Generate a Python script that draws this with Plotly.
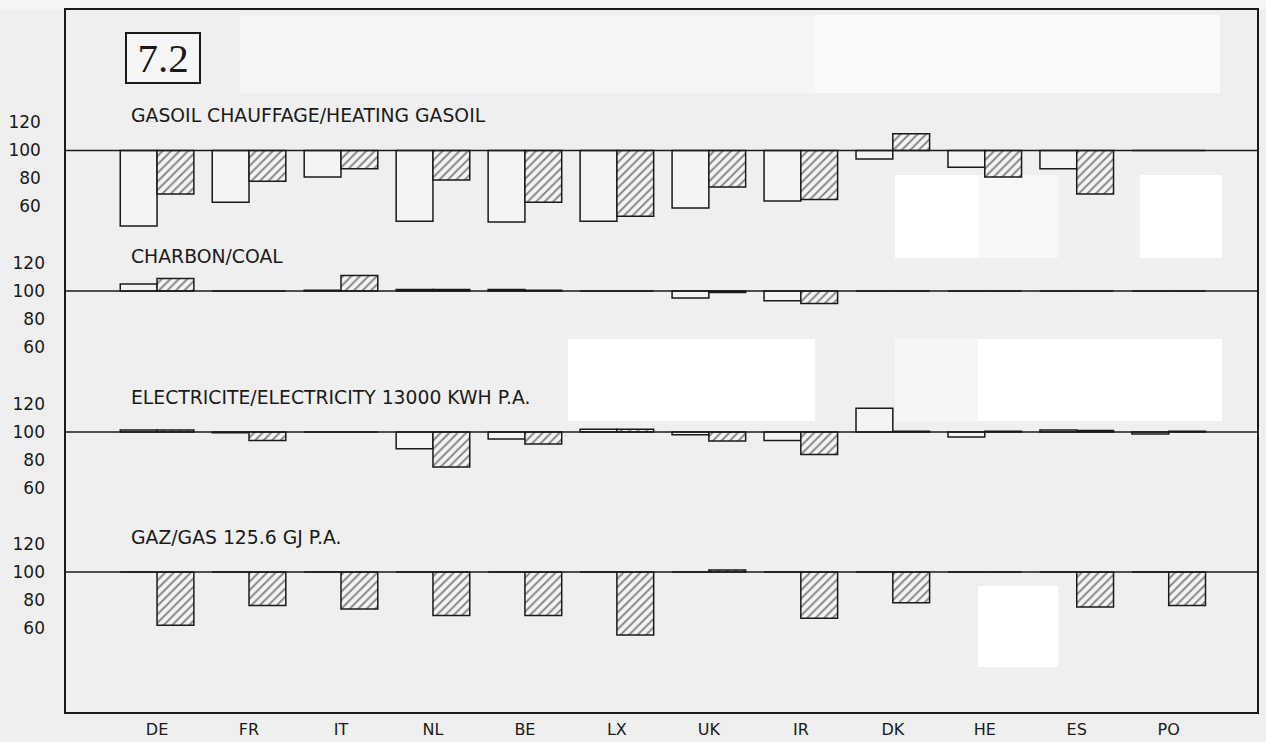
import plotly.graph_objects as go

countries = ["DE", "FR", "IT", "NL", "BE", "LX", "UK", "IR", "DK", "HE", "ES", "PO"]

# index values (100 = reference), open bar / hatched bar
gasoil_open = [46, 63, 81, 49.5, 49, 49.5, 59, 64, 94, 88, 87, 100]
gasoil_hatch = [69, 78, 87, 79, 63, 53, 74, 65, 112, 81, 69, 100]
coal_open = [105, 100, 100.5, 101, 101, 100, 95, 93, 100, 100, 100, 100]
coal_hatch = [109, 100, 111, 101, 100.5, 100, 99, 91, 100, 100, 100, 100]
elec_open = [101.5, 99.5, 100, 88, 95, 102, 98, 94, 117, 96.5, 101.5, 98.5]
elec_hatch = [101.5, 94, 100, 75, 91.5, 102, 93.5, 84, 100.5, 100.5, 101, 100.5]
gas_open = [100, 100, 100, 100, 100, 100, 100, 100, 100, 100, 100, 100]
gas_hatch = [62, 76, 73.5, 69, 69, 55, 101.5, 67, 78, 100, 75, 76]

panel_titles = ["GASOIL CHAUFFAGE/HEATING GASOIL", "CHARBON/COAL",
                "ELECTRICITE/ELECTRICITY 13000 KWH P.A.", "GAZ/GAS 125.6 GJ P.A."]
tick_vals = [60, 80, 100, 120]

panels = [(gasoil_open, gasoil_hatch), (coal_open, coal_hatch),
          (elec_open, elec_hatch), (gas_open, gas_hatch)]

W, H = 1266, 742
plot_left, plot_right = 66, 1257
plot_top, plot_bot = 10, 712
ML, MT, MR, MB = plot_left, plot_top, W - plot_right, H - plot_bot
pw = plot_right - plot_left
ph = plot_bot - plot_top
px_per_unit = 1.4
baselines = [150.5, 291, 432, 572]

BG = "#efefef"
INK = "#1a1a1a"
FONT = "DejaVu Sans"

fig = go.Figure()
axis_names = ["y", "y2", "y3", "y4"]
for i, (op, ht) in enumerate(panels):
    ya = axis_names[i]
    fig.add_trace(go.Bar(x=countries, y=[v - 100 for v in op], base=100,
                         width=0.4, offset=-0.4, yaxis=ya,
                         marker=dict(color="#f4f4f4", line=dict(color=INK, width=1.5)),
                         showlegend=False))
    fig.add_trace(go.Bar(x=countries, y=[v - 100 for v in ht], base=100,
                         width=0.4, offset=0.0, yaxis=ya,
                         marker=dict(color="#f4f4f4", line=dict(color=INK, width=1.5),
                                     pattern=dict(shape="/", fgcolor=INK, bgcolor="#f4f4f4",
                                                  size=6, solidity=0.33)),
                         showlegend=False))


def yrange(b):
    return [100 - (plot_bot - b) / px_per_unit, 100 + (b - plot_top) / px_per_unit]


common_y = dict(tickvals=tick_vals, ticks="", showgrid=False, zeroline=False,
                tickfont=dict(family=FONT, size=17, color=INK), ticklabelstandoff=20,
                fixedrange=True, automargin=False)

layout_axes = {}
for i, b in enumerate(baselines):
    key = "yaxis" if i == 0 else f"yaxis{i+1}"
    d = dict(common_y, range=yrange(b))
    if i == 0:
        d.update(showline=True, mirror=True, linecolor=INK, linewidth=1.5)
    else:
        d.update(overlaying="y", side="left", showline=False)
    layout_axes[key] = d


def py(y):
    return (plot_bot - y) / ph


def pxx(x):
    return (x - plot_left) / pw


shapes = []
for i in range(4):
    shapes.append(dict(type="line", xref="paper", x0=0, x1=1, yref=axis_names[i],
                       y0=100, y1=100, line=dict(color=INK, width=1.5), layer="above"))

# light scan patches (pixel boxes)
patches = [
    (240, 815, 15, 93, "#f5f5f5"), (815, 1220, 15, 93, "#fafafa"),
    (895, 978, 175, 258, "#ffffff"), (978, 1058, 175, 258, "#f7f7f7"), (1140, 1222, 175, 258, "#ffffff"),
    (568, 815, 339, 421, "#ffffff"), (895, 978, 339, 421, "#f6f6f6"), (978, 1222, 339, 421, "#ffffff"),
    (978, 1058, 586, 667, "#ffffff"),
]
for x0, x1, y0, y1, c in patches:
    shapes.append(dict(type="rect", xref="paper", yref="paper", x0=pxx(x0), x1=pxx(x1),
                       y0=py(y1), y1=py(y0), fillcolor=c, line=dict(width=0), layer="below"))
shapes.append(dict(type="rect", xref="paper", yref="paper", x0=-1, x1=2, y0=1, y1=1 + plot_top / ph,
                   fillcolor="#f5f5f5", line=dict(width=0), layer="below"))

annotations = []
for i, t in enumerate(panel_titles):
    annotations.append(dict(text=t, xref="paper", x=pxx(129), xanchor="left",
                            yref=axis_names[i], y=125, yanchor="middle", showarrow=False,
                            font=dict(family=FONT, size=18.8, color=INK)))

annotations.append(dict(text="7.2", xref="paper", yref="paper", x=pxx(163), y=py(58),
                        xanchor="center", yanchor="middle", showarrow=False,
                        font=dict(family="Liberation Serif", size=41, color=INK),
                        bordercolor=INK, borderwidth=2, bgcolor="#f6f6f6",
                        width=72, height=48, borderpad=0))

fig.update_layout(
    width=W, height=H, autosize=False,
    margin=dict(l=ML, r=MR, t=MT, b=MB, pad=0, autoexpand=False),
    paper_bgcolor=BG, plot_bgcolor=BG,
    barmode="overlay",
    xaxis=dict(range=[-0.99, 11.96], ticks="", showgrid=False, zeroline=False,
               tickfont=dict(family=FONT, size=16, color=INK), ticklabelstandoff=2,
               showline=True, mirror=True, linecolor=INK, linewidth=1.5, fixedrange=True,
               automargin=False),
    shapes=shapes, annotations=annotations,
    **layout_axes,
)

fig.write_html("out.html",
               config={"responsive": False, "displayModeBar": False},
               post_script="var gd=document.getElementById('{plot_id}');"
                           "gd.style.position='absolute';gd.style.left='0px';gd.style.top='0px';"
                           "document.body.style.background='#efefef';")
